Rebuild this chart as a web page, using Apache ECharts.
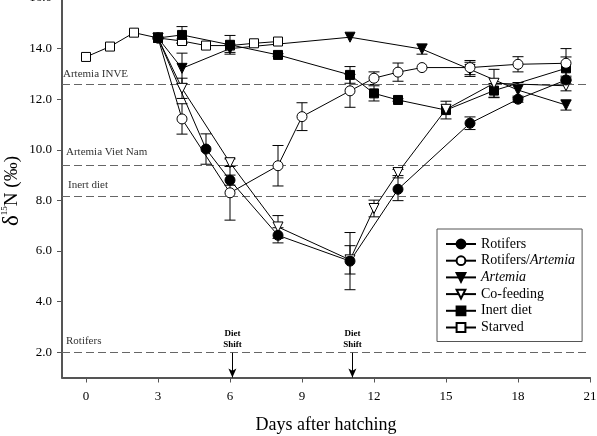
<!DOCTYPE html>
<html>
<head>
<meta charset="utf-8">
<script src="https://cdn.jsdelivr.net/npm/echarts@6/dist/echarts.min.js"></script>
<style>
  html, body { margin: 0; padding: 0; background: #fff; }
  #chart { width: 597px; height: 436px; }
</style>
</head>
<body>
<div id="chart"></div>
<script>
// days after hatching, d15N values and error half-widths for each treatment
const xTicks = [0, 3, 6, 9, 12, 15, 18, 21];
const yTicks = [2, 4, 6, 8, 10, 12, 14, 16];

const rotifersDays = [3, 5, 6, 8, 11, 13, 16, 18, 20];
const rotifersVals = [14.42, 10.03, 8.8, 6.62, 5.6, 8.44, 11.05, 12.0, 12.76];
const rotifersErr  = [0, 0.6, 0.2, 0.3, 1.13, 0.45, 0.25, 0.12, 0.15];

const rotArtDays = [3, 4, 6, 8, 9, 11, 12, 13, 14, 16, 18, 20];
const rotArtVals = [14.42, 11.22, 8.3, 9.37, 11.31, 12.33, 12.83, 13.07, 13.25, 13.25, 13.38, 13.42];
const rotArtErr  = [0, 0.6, 1.08, 0.8, 0.55, 0.65, 0.25, 0.36, 0, 0.28, 0.3, 0.58];

const artemiaDays = [3, 4, 6, 11, 14, 16, 18, 20];
const artemiaVals = [14.42, 13.22, 14.0, 14.45, 13.98, 13.18, 12.36, 11.77];
const artemiaErr  = [0, 0.6, 0.15, 0, 0.2, 0.28, 0.3, 0.2];

const cofeedDays = [3, 4, 6, 8, 11, 12, 13, 15, 17, 20];
const cofeedVals = [14.42, 12.43, 9.49, 6.95, 5.65, 7.68, 9.1, 11.6, 12.63, 12.53];
const cofeedErr  = [0, 0.4, 0.15, 0.45, 0.56, 0.33, 0.12, 0, 0.55, 0.2];

const inertDays = [3, 4, 6, 8, 11, 12, 13, 15, 17, 20];
const inertVals = [14.42, 14.54, 14.15, 13.75, 12.96, 12.23, 11.97, 11.57, 12.34, 13.22];
const inertErr  = [0, 0.33, 0.37, 0.05, 0.33, 0.3, 0.05, 0.35, 0.28, 0.45];

const starvedDays = [0, 1, 2, 3, 4, 5, 6, 7, 8];
const starvedVals = [13.67, 14.08, 14.63, 14.42, 14.3, 14.12, 14.12, 14.21, 14.28];
const starvedErr  = [0, 0, 0, 0, 0.08, 0, 0, 0, 0];

// diet sources (dashed reference lines)
const refNames  = ['Artemia INVE', 'Artemia Viet Nam', 'Inert diet', 'Rotifers'];
const refValues = [12.6, 9.37, 8.15, 1.98];
const refLabelOffsets = [[1, 4], [4, 8], [6, 6], [4, 6]];

const dietShiftDays = [6.1, 11.1];

const FONT = '"Liberation Serif", "DejaVu Serif", serif';
const triDown = 'path://M0,0 L10,0 L5,9 Z';

function pairs(days, vals) {
  return days.map((d, i) => [d, vals[i]]);
}

function errRows(days, vals, errs) {
  const rows = [];
  days.forEach((d, i) => {
    if (errs[i] > 0) rows.push([d, vals[i] - errs[i], vals[i] + errs[i]]);
  });
  return rows;
}

function lineSeries(name, days, vals, symbol, filled) {
  return {
    name: name,
    type: 'line',
    data: pairs(days, vals),
    symbol: symbol,
    symbolSize: symbol === 'rect' ? 9 : 10,
    lineStyle: { color: '#000', width: 1 },
    itemStyle: {
      color: filled ? '#000' : '#fff',
      borderColor: '#000',
      borderWidth: 1
    },
    z: 5
  };
}

const errData = []
  .concat(errRows(rotifersDays, rotifersVals, rotifersErr))
  .concat(errRows(rotArtDays, rotArtVals, rotArtErr))
  .concat(errRows(artemiaDays, artemiaVals, artemiaErr))
  .concat(errRows(cofeedDays, cofeedVals, cofeedErr))
  .concat(errRows(inertDays, inertVals, inertErr))
  .concat(errRows(starvedDays, starvedVals, starvedErr));

const chart = echarts.init(document.getElementById('chart'));

chart.setOption({
  animation: false,
  grid: { left: 62, right: 7, top: -2, bottom: 58.5, outerBoundsMode: 'none', containLabel: false },
  // y axis title, drawn as rotated rich text
  graphic: [{
    type: 'text',
    x: 12,
    y: 191,
    rotation: Math.PI / 2,
    style: {
      text: '{d|δ}{s|15}{n|N (‰)}',
      align: 'center',
      verticalAlign: 'middle',
      fill: '#000',
      rich: {
        d: { fontFamily: FONT, fontSize: 23, fill: '#000' },
        s: { fontFamily: FONT, fontSize: 9, fill: '#000', verticalAlign: 'top', padding: [0, 0, 10, 0] },
        n: { fontFamily: FONT, fontSize: 19, fill: '#000' }
      }
    }
  }],
  xAxis: {
    type: 'value',
    min: -1,
    max: 21,
    name: 'Days after hatching',
    nameLocation: 'middle',
    nameGap: 39,
    nameTextStyle: { fontFamily: FONT, fontSize: 18, color: '#000' },
    axisLine: { onZero: false, lineStyle: { color: '#555', width: 2 } },
    axisTick: { length: 5, lineStyle: { color: '#555', width: 1 }, customValues: xTicks },
    axisLabel: { fontFamily: FONT, fontSize: 13, color: '#000', margin: 13, customValues: xTicks },
    splitLine: { show: false }
  },
  yAxis: {
    type: 'value',
    min: 1,
    max: 16,
    axisLine: { show: true, onZero: false, lineStyle: { color: '#555', width: 2 } },
    axisTick: { show: true, length: 5, lineStyle: { color: '#555', width: 1 }, customValues: yTicks },
    axisLabel: {
      fontFamily: FONT, fontSize: 13, color: '#000', margin: 10,
      customValues: yTicks,
      formatter: v => v.toFixed(1)
    },
    splitLine: { show: false }
  },
  legend: {
    data: [
      { name: 'Rotifers' },
      { name: 'Rotifers/Artemia' },
      { name: 'Artemia' },
      { name: 'Co-feeding' },
      { name: 'Inert diet' },
      { name: 'Starved' }
    ],
    orient: 'vertical',
    left: 437,
    top: 229,
    itemWidth: 30,
    itemHeight: 11,
    itemGap: 0.7,
    padding: [7, 7, 6, 8],
    borderColor: '#555',
    borderWidth: 1,
    formatter: function (name) {
      if (name === 'Rotifers/Artemia') return '{n|Rotifers/}{i|Artemia}';
      if (name === 'Artemia') return '{i|Artemia}';
      return '{n|' + name + '}';
    },
    textStyle: {
      fontFamily: FONT,
      fontSize: 14,
      color: '#000',
      lineHeight: 16,
      rich: {
        n: { fontFamily: FONT, fontSize: 14, color: '#000', lineHeight: 16 },
        i: { fontFamily: FONT, fontSize: 14, color: '#000', fontStyle: 'italic', lineHeight: 16 }
      }
    }
  },
  series: [
    {
      name: 'refs',
      type: 'line',
      data: [],
      silent: true,
      markLine: {
        silent: true,
        symbol: ['none', 'none'],
        lineStyle: { color: '#666', type: [8, 4], width: 1.2 },
        label: {
          show: true,
          position: 'insideStartTop',
          fontFamily: FONT,
          fontSize: 11,
          color: '#333',
          formatter: p => p.name
        },
        data: refNames.map((n, i) => [
          { name: n, coord: [-1, refValues[i]], label: { distance: refLabelOffsets[i] } },
          { coord: [21, refValues[i]] }
        ])
      },
      z: 1
    },
    {
      name: 'shift',
      type: 'line',
      data: [],
      silent: true,
      markLine: {
        silent: true,
        symbol: ['none', 'arrow'],
        symbolSize: [6, 9],
        lineStyle: { color: '#000', type: 'solid', width: 1 },
        label: {
          show: true,
          position: 'start',
          distance: 3,
          fontFamily: FONT,
          fontSize: 9,
          fontWeight: 'bold',
          lineHeight: 11,
          color: '#000',
          formatter: 'Diet\nShift'
        },
        data: dietShiftDays.map(d => [
          { coord: [d, 1.98] },
          { coord: [d, 1.0] }
        ])
      },
      z: 2
    },
    {
      name: 'errors',
      type: 'custom',
      data: errData,
      encode: { x: 0, y: [1, 2] },
      silent: true,
      z: 3,
      renderItem: function (params, api) {
        const x = api.value(0);
        const top = api.coord([x, api.value(2)]);
        const bot = api.coord([x, api.value(1)]);
        const w = 5.5;
        const st = { stroke: '#000', lineWidth: 1 };
        return {
          type: 'group',
          children: [
            { type: 'line', shape: { x1: top[0], y1: top[1], x2: bot[0], y2: bot[1] }, style: st },
            { type: 'line', shape: { x1: top[0] - w, y1: top[1], x2: top[0] + w, y2: top[1] }, style: st },
            { type: 'line', shape: { x1: bot[0] - w, y1: bot[1], x2: bot[0] + w, y2: bot[1] }, style: st }
          ]
        };
      }
    },
    lineSeries('Starved', starvedDays, starvedVals, 'rect', false),
    lineSeries('Inert diet', inertDays, inertVals, 'rect', true),
    lineSeries('Co-feeding', cofeedDays, cofeedVals, triDown, false),
    lineSeries('Artemia', artemiaDays, artemiaVals, triDown, true),
    lineSeries('Rotifers/Artemia', rotArtDays, rotArtVals, 'circle', false),
    lineSeries('Rotifers', rotifersDays, rotifersVals, 'circle', true)
  ]
});
</script>
</body>
</html>
